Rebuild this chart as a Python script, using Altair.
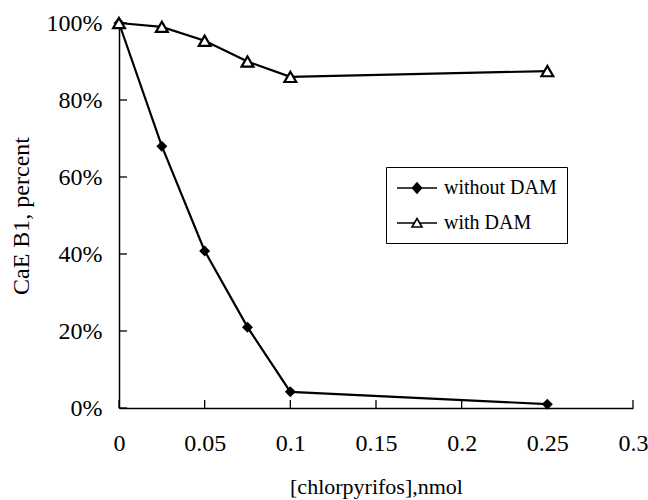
import altair as alt
import pandas as pd

# ---- data ----
conc = [0, 0.025, 0.05, 0.075, 0.1, 0.25]
without_dam = [100, 68, 40.8, 21, 4.2, 1.0]
with_dam = [100, 99, 95.4, 90, 86, 87.5]
series_names = ["without DAM", "with DAM"]

x_ticks = [0, 0.05, 0.1, 0.15, 0.2, 0.25, 0.3]
y_ticks = [0, 20, 40, 60, 80, 100]

rows = []
for c, a, b in zip(conc, without_dam, with_dam):
    rows.append({"conc": c, "value": a, "series": series_names[0]})
    rows.append({"conc": c, "value": b, "series": series_names[1]})
df = pd.DataFrame(rows)
xt = pd.DataFrame({"conc": x_ticks})
yt = pd.DataFrame({"value": y_ticks})

W, H = 514, 385
FONT = "Liberation Serif"

xscale = alt.Scale(domain=[0, 0.3], nice=False, zero=False)
yscale = alt.Scale(domain=[0, 100], nice=False)

xaxis = alt.Axis(title="[chlorpyrifos],nmol", values=x_ticks, format="~g",
                 ticks=False, tickSize=0, labelPadding=23, titlePadding=21,
                 grid=False, domainColor="black", domainWidth=1.5,
                 labelFont=FONT, labelFontSize=24, labelColor="black",
                 titleFont=FONT, titleFontSize=22, titleFontWeight="normal",
                 titleColor="black", labelFlush=False)
yaxis = alt.Axis(title="CaE B1, percent", values=y_ticks,
                 labelExpr="datum.value + '%'",
                 ticks=False, tickSize=0, labelPadding=17, titlePadding=13,
                 grid=False, domainColor="black", domainWidth=1.5,
                 labelFont=FONT, labelFontSize=24, labelColor="black",
                 titleFont=FONT, titleFontSize=24, titleFontWeight="normal",
                 titleColor="black", labelFlush=False)

X = alt.X("conc:Q", scale=xscale, axis=xaxis)
Y = alt.Y("value:Q", scale=yscale, axis=yaxis)

base = alt.Chart(df)

lines = base.mark_line(color="black", strokeWidth=2.2).encode(x=X, y=Y, detail="series:N")

pts_without = base.transform_filter(alt.datum.series == series_names[0]).mark_point(
    shape="diamond", filled=True, color="black", size=120, opacity=1
).encode(x=X, y=Y)

pts_with = base.transform_filter(alt.datum.series == series_names[1]).mark_point(
    shape="triangle-up", filled=True, fill="white", stroke="black", strokeWidth=2.2,
    size=140, opacity=1
).encode(x=X, y=Y)

# inward tick marks (Excel style)
xtick_layer = alt.Chart(xt).mark_rule(color="black", strokeWidth=1.3).encode(
    x=X, y=alt.value(H), y2=alt.value(H - 8))
ytick_layer = alt.Chart(yt).mark_rule(color="black", strokeWidth=1.3).encode(
    y=Y, x=alt.value(0), x2=alt.value(8))

# legend-only layer: symbols are line + marker paths
diamond_path = "M-1,0H0.55 M1.45,0H3 M1,-0.5L1.45,0L1,0.5L0.55,0Z"
triangle_path = "M-1,0H0.73 M1.27,0H3 M1,-0.45L1.5,0.4L0.5,0.4Z"
leg = alt.Legend(title=None, orient="none", legendX=267, legendY=144,
                 symbolSize=400, symbolStrokeColor="black",
                 symbolStrokeWidth=1.6, labelOffset=26,
                 labelFont=FONT, labelFontSize=20, labelColor="black",
                 rowPadding=14, padding=10, strokeColor="black",
                 fillColor="white", labelLimit=300)
legend_layer = base.transform_filter("false").mark_point(
    filled=True, strokeWidth=1.6, opacity=1
).encode(
    shape=alt.Shape("series:N",
                    scale=alt.Scale(domain=series_names, range=[diamond_path, triangle_path]),
                    legend=leg),
    fill=alt.Fill("series:N",
                  scale=alt.Scale(domain=series_names, range=["black", "white"]),
                  legend=leg),
    stroke=alt.Stroke("series:N",
                      scale=alt.Scale(domain=series_names, range=["black", "black"]),
                      legend=leg),
)

chart = alt.layer(
    lines, xtick_layer, ytick_layer, pts_without, pts_with, legend_layer
).properties(
    width=W, height=H,
    autosize=alt.AutoSizeParams(type="none"),
    padding={"left": 119, "top": 23, "right": 15, "bottom": 92},
    background="white",
).configure_view(stroke=None).configure_axis(titleColor="black", labelColor="black")

chart.save("out.html", embed_options={"renderer": "svg", "actions": False})
